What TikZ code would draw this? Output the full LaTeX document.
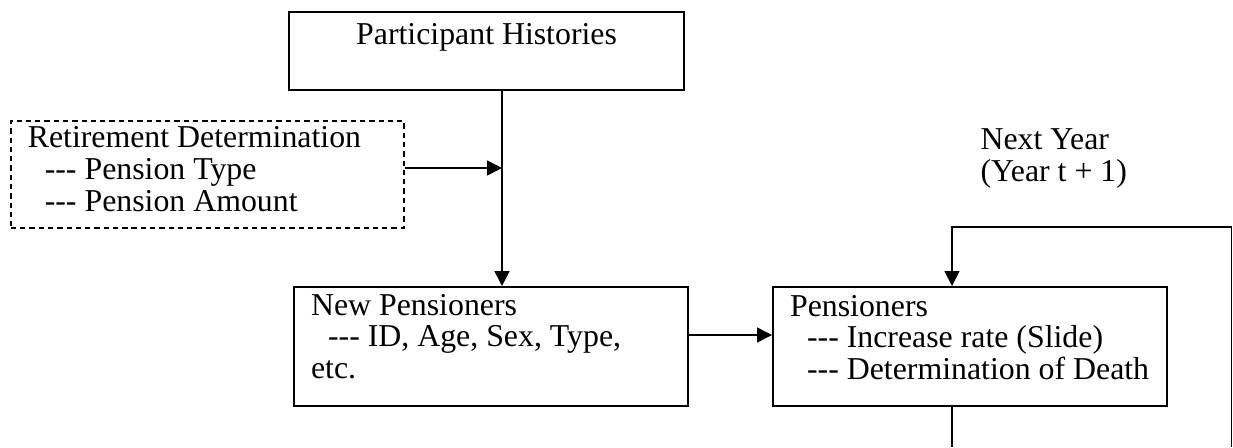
\documentclass[tikz,border=0pt]{standalone}
\usepackage{fontspec}
\setmainfont{Liberation Serif}
\usetikzlibrary{arrows.meta}

\newlength{\px}
\setlength{\px}{0.377pt}
\newcommand{\ddd}{-\kern0pt-\kern0pt-}
\newcommand{\boxtext}[4]{\parbox[t][#1\px][t]{#2\px}{\leftskip=17\px\rule{0pt}{#3\px}#4}}

\begin{document}
\begin{tikzpicture}[x=\px, y=-\px,
    box/.style={draw, line width=0.8pt, anchor=north west, inner sep=0pt, font=\fontsize{12}{12}\selectfont},
    dashbox/.style={box, line width=0.6pt, dash pattern=on 2pt off 1.5pt},
    link/.style={line width=0.6pt},
    arrow/.style={link, -{Triangle[length=5.6pt, width=5.6pt]}}]
    \useasboundingbox (0,0) rectangle (1233,447);
    % boxes
    \node[box] (ph) at (288,11) {\parbox[t][78\px][t]{395\px}{\centering\rule{0pt}{32\px}Participant Histories}};
    \node[dashbox] (rd) at (10,120) {\boxtext{107}{393}{27}{Retirement Determination\\
        \hspace*{17\px}\ddd{} Pension Type\\
        \hspace*{17\px}\ddd{} Pension Amount}};
    \node[box] (np) at (293,286) {\boxtext{119}{394}{28}{New Pensioners\\
        \hspace*{17\px}\ddd{} ID, Age, Sex, Type,\\
        etc.}};
    \node[box] (pn) at (772,286) {\boxtext{119}{394}{29}{Pensioners\\
        \hspace*{17\px}\ddd{} Increase rate (Slide)\\
        \hspace*{17\px}\ddd{} Determination of Death}};
    \node[anchor=north west, inner sep=0pt, font=\fontsize{12}{12}\selectfont] (ny) at (980,128)
        {\parbox[t]{250\px}{\rule{0pt}{19\px}Next Year\\(Year t + 1)}};
    % connectors
    \coordinate (jn) at (502,168);
    \coordinate (mid) at (0,335);
    \coordinate (fb) at (952,447);
    \coordinate (loop) at (1231.5,227);
    \coordinate (edge) at (1231.5,447);
    \draw[link] (ph.south -| jn) -- (jn);
    \draw[arrow] (jn) -- (np.north -| jn);
    \draw[arrow] (rd.east |- jn) -- (jn);
    \draw[arrow] (np.east |- mid) -- (pn.west |- mid);
    \draw[link] (pn.south -| fb) -- (fb);
    \draw[arrow] (edge) -- (loop) -| (pn.north -| fb);
\end{tikzpicture}
\end{document}
